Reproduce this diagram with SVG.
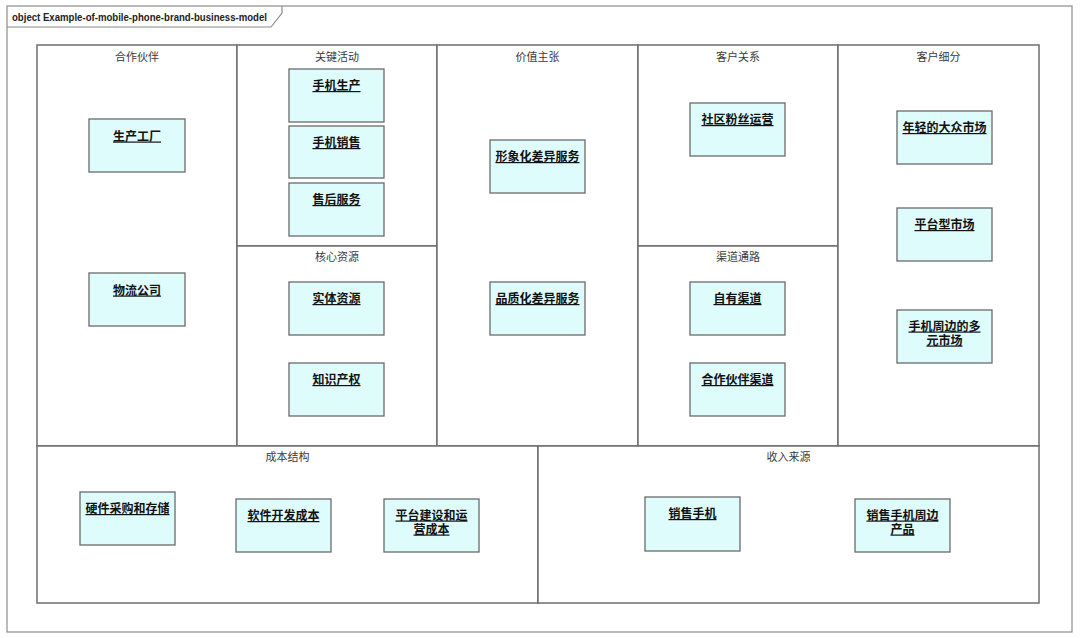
<svg xmlns="http://www.w3.org/2000/svg" width="1080" height="638" viewBox="0 0 1080 638">
<style>
.frame{fill:none;stroke:#8c8c8c;stroke-width:1.2}
.sec{fill:#ffffff;stroke:#6e6e6e;stroke-width:1.5}
.sect{font-family:"Noto Sans CJK SC","Liberation Sans",sans-serif;font-size:11px;fill:#3a3a3a;text-anchor:middle}
.node{fill:#dffcfd;stroke:#6a6a6a;stroke-width:1.3}
.nt{font-family:"Noto Sans CJK SC","Liberation Sans",sans-serif;font-size:12px;font-weight:bold;fill:#111;text-anchor:middle;text-decoration:underline}
.title{font-family:"Liberation Sans","Open Sans",sans-serif;font-size:11px;font-weight:bold;fill:#222}
</style>
<rect x="0" y="0" width="1080" height="638" fill="#ffffff"/>
<g id="frame">
<rect class="frame" x="7" y="6" width="1065" height="626"/>
<path class="frame" d="M7,27 H271 L282,13 V6"/>
<text class="title" x="12" y="20.5" textLength="255" lengthAdjust="spacingAndGlyphs">object Example-of-mobile-phone-brand-business-model</text>
</g>
<g id="sections">
<g id="sec-partners"><rect class="sec" x="37" y="45" width="200" height="401"/><text class="sect" x="137" y="60.5">合作伙伴</text></g>
<g id="sec-activities"><rect class="sec" x="237" y="45" width="200" height="201"/><text class="sect" x="337" y="60.5">关键活动</text></g>
<g id="sec-resources"><rect class="sec" x="237" y="246" width="200" height="200"/><text class="sect" x="337" y="260.5">核心资源</text></g>
<g id="sec-value"><rect class="sec" x="437" y="45" width="201" height="401"/><text class="sect" x="537.5" y="60.5">价值主张</text></g>
<g id="sec-relations"><rect class="sec" x="638" y="45" width="200" height="201"/><text class="sect" x="738" y="60.5">客户关系</text></g>
<g id="sec-channels"><rect class="sec" x="638" y="246" width="200" height="200"/><text class="sect" x="738" y="260.5">渠道通路</text></g>
<g id="sec-segments"><rect class="sec" x="838" y="45" width="201" height="401"/><text class="sect" x="938.5" y="60.5">客户细分</text></g>
<g id="sec-cost"><rect class="sec" x="37" y="446" width="501" height="157"/><text class="sect" x="287.5" y="461">成本结构</text></g>
<g id="sec-revenue"><rect class="sec" x="538" y="446" width="501" height="157"/><text class="sect" x="788.5" y="461">收入来源</text></g>
</g>
<g id="connectors"></g>
<g id="n1"><rect class="node" x="89" y="119" width="96" height="53"/><text class="nt" x="137" y="140.5">生产工厂</text></g>
<g id="n2"><rect class="node" x="89" y="273" width="96" height="53"/><text class="nt" x="137" y="294.5">物流公司</text></g>
<g id="n3"><rect class="node" x="289" y="69" width="95" height="53"/><text class="nt" x="336.5" y="90">手机生产</text></g>
<g id="n4"><rect class="node" x="289" y="126" width="95" height="52"/><text class="nt" x="336.5" y="147">手机销售</text></g>
<g id="n5"><rect class="node" x="289" y="183" width="95" height="53"/><text class="nt" x="336.5" y="204">售后服务</text></g>
<g id="n6"><rect class="node" x="289" y="282" width="95" height="53"/><text class="nt" x="336.5" y="303">实体资源</text></g>
<g id="n7"><rect class="node" x="289" y="363" width="95" height="53"/><text class="nt" x="336.5" y="384">知识产权</text></g>
<g id="n8"><rect class="node" x="490" y="140" width="95" height="53"/><text class="nt" x="537.5" y="161">形象化差异服务</text></g>
<g id="n9"><rect class="node" x="490" y="282" width="95" height="53"/><text class="nt" x="537.5" y="303">品质化差异服务</text></g>
<g id="n10"><rect class="node" x="690" y="103" width="95" height="53"/><text class="nt" x="737.5" y="124">社区粉丝运营</text></g>
<g id="n11"><rect class="node" x="690" y="282" width="95" height="53"/><text class="nt" x="737.5" y="303">自有渠道</text></g>
<g id="n12"><rect class="node" x="690" y="363" width="95" height="53"/><text class="nt" x="737.5" y="384">合作伙伴渠道</text></g>
<g id="n13"><rect class="node" x="897" y="111" width="95" height="53"/><text class="nt" x="944.5" y="132">年轻的大众市场</text></g>
<g id="n14"><rect class="node" x="897" y="208" width="95" height="53"/><text class="nt" x="944.5" y="229">平台型市场</text></g>
<g id="n15"><rect class="node" x="897" y="310" width="95" height="53"/><text class="nt" x="944.5" y="330.5"><tspan x="944.5" y="330.5">手机周边的多</tspan><tspan x="944.5" y="344.5">元市场</tspan></text></g>
<g id="n16"><rect class="node" x="80" y="492" width="95" height="53"/><text class="nt" x="127.5" y="513">硬件采购和存储</text></g>
<g id="n17"><rect class="node" x="236" y="499" width="95" height="53"/><text class="nt" x="283.5" y="520">软件开发成本</text></g>
<g id="n18"><rect class="node" x="384" y="499" width="95" height="53"/><text class="nt" x="431.5" y="519.5"><tspan x="431.5" y="519.5">平台建设和运</tspan><tspan x="431.5" y="533.5">营成本</tspan></text></g>
<g id="n19"><rect class="node" x="645" y="497" width="95" height="54"/><text class="nt" x="692.5" y="518">销售手机</text></g>
<g id="n20"><rect class="node" x="855" y="499" width="95" height="53"/><text class="nt" x="902.5" y="519.5"><tspan x="902.5" y="519.5">销售手机周边</tspan><tspan x="902.5" y="533.5">产品</tspan></text></g>
</svg>
